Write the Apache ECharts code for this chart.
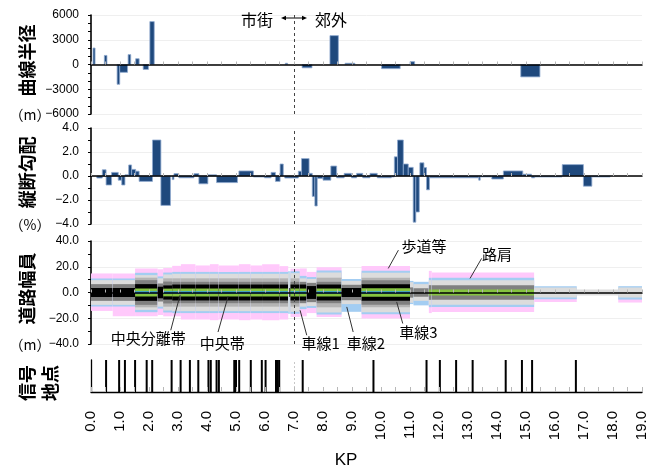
<!DOCTYPE html>
<html>
<head>
<meta charset="utf-8">
<script src="https://cdn.jsdelivr.net/npm/echarts@6/dist/echarts.min.js"></script>
<style>
html, body { margin: 0; padding: 0; background: #fff; }
#main { width: 662px; height: 465px; }
</style>
</head>
<body>
<div id="main"></div>
<script>
// ---- 曲線半径 (m): start KP, end KP, radius (sign = curve direction)
const curveStart  = [0.07, 0.46, 0.90, 0.99, 1.28, 1.54, 1.80, 2.03, 6.70, 7.28, 8.24, 8.76, 10.02, 11.00, 14.82];
const curveEnd    = [0.14, 0.55, 0.99, 1.26, 1.37, 1.66, 1.98, 2.18, 6.78, 7.62, 8.53, 9.10, 10.66, 11.16, 15.48];
const curveRadius = [2000, 1100, -2400, -950, 1200, 700, -600, 5200, 150, -400, 3500, 150, -500, 350, -1500];

// ---- 縦断勾配 (%): start KP, end KP, grade
const gradeStart = [0.20, 0.39, 0.52, 0.71, 0.94, 1.06, 1.17, 1.30, 1.40, 1.54, 1.66, 2.12, 2.41, 2.80, 2.86, 3.03, 3.55, 3.72, 4.03, 4.33,
  5.10, 5.60, 5.98, 6.21, 6.36, 6.52, 6.68, 7.15, 7.26, 7.52, 7.63, 7.72, 7.80, 8.00, 8.27, 8.47, 8.73, 8.98, 9.16, 9.37,
  9.62, 9.87, 10.36, 10.46, 10.57, 10.77, 10.94, 11.11, 11.20, 11.34, 11.48, 11.57, 11.67, 13.37, 13.42, 13.82, 14.22, 14.89, 15.19, 15.30,
  16.25, 16.98, 17.27];
const gradeEnd = [0.39, 0.52, 0.71, 0.94, 1.06, 1.17, 1.30, 1.40, 1.54, 1.66, 2.12, 2.41, 2.74, 2.86, 3.03, 3.55, 3.72, 4.03, 4.33, 5.05,
  5.60, 5.98, 6.21, 6.36, 6.52, 6.63, 7.15, 7.26, 7.52, 7.63, 7.72, 7.80, 8.00, 8.27, 8.47, 8.73, 8.98, 9.16, 9.37, 9.62,
  9.87, 10.36, 10.46, 10.57, 10.77, 10.94, 11.11, 11.20, 11.32, 11.48, 11.57, 11.67, 13.37, 13.42, 13.80, 14.22, 14.89, 15.19, 15.30, 16.24,
  16.98, 17.27, 17.90];
const gradeValue = [-0.17, 0.52, -0.75, 0.30, -0.35, -0.75, 0.10, 0.92, 0.55, 0.40, -0.45, 3.00, -2.45, -0.30, 0.20, -0.15, 0.20, -0.65, 0.10, -0.55,
  0.42, -0.05, -0.15, 0.30, -0.45, 1.00, -0.17, 0.40, 1.45, 0.22, -1.70, -2.50, -0.20, -0.35, 0.83, -0.15, 0.22, -0.15, 0.22, -0.15,
  0.22, -0.15, -0.05, 1.60, 3.00, 1.00, 0.72, -3.85, -3.00, 1.10, 0.70, -1.15, -0.15, -0.35, -0.03, -0.25, 0.42, 0.15, -0.15, -0.03,
  0.95, -0.85, -0.03];

// ---- 道路幅員 (m): sections and outer half-widths of each band
const roadStart = [0, 0.75, 1.52, 2.30, 2.49, 2.80, 3.10, 3.60, 4.10, 4.40, 5.10, 5.50, 5.90, 6.50, 6.80, 6.84, 6.88, 7.20, 7.44, 7.78,
  8.64, 9.33, 11.00, 11.12, 11.65, 11.75, 15.28, 16.75, 18.18];
const roadEnd = [0.75, 1.52, 2.30, 2.49, 2.80, 3.10, 3.60, 4.10, 4.40, 5.10, 5.50, 5.90, 6.50, 6.80, 6.84, 6.88, 7.20, 7.44, 7.78, 8.64,
  9.33, 11.00, 11.12, 11.65, 11.75, 15.28, 16.75, 18.18, 19.00];
const sidewalkTop    = [14.8, 14.8, 18.7, 18.0, 19.0, 20.7, 22.0, 21.0, 22.0, 21.0, 22.0, 21.0, 22.0, 20.5, 0, 0, 18.5, 18.7, 16.0, 19.7, 0, 20.5, 0, 0, 16.8, 15.5, 0, 0, 0];
const sidewalkBottom = [14.3, 18.4, 18.4, 17.5, 18.5, 18.5, 21.0, 21.0, 21.5, 21.0, 21.5, 21.0, 21.5, 21.0, 0, 0, 19.0, 18.5, 16.0, 19.0, 0, 20.2, 0, 0, 16.0, 15.1, 7.3, 0, 7.8];
const shoulderTop    = [10.9, 10.9, 15.3, 12.5, 15.5, 16.0, 16.0, 16.0, 16.0, 16.0, 16.0, 16.0, 16.0, 16.0, 16.5, 16.5, 16.5, 12.9, 12.0, 17.0, 10.5, 16.8, 9.0, 8.3, 11.4, 11.4, 4.9, 0, 4.9];
const shoulderBottom = [10.9, 10.9, 15.3, 12.5, 15.5, 16.0, 16.0, 16.0, 16.0, 16.0, 16.0, 16.0, 16.0, 16.0, 16.5, 16.5, 16.5, 12.9, 12.0, 17.0, 15.0, 16.8, 9.0, 10.0, 11.4, 11.2, 5.2, 0, 5.5];
const lane3Width  = [9.6, 9.6, 13.5, 11.0, 14.0, 14.5, 14.5, 14.5, 14.5, 14.5, 14.5, 14.5, 14.5, 14.5, 15.0, 15.0, 15.0, 11.0, 10.5, 15.5, 9.0, 15.3, 8.0, 6.5, 9.6, 9.6, 3.9, 2.3, 3.9];
const lane2Width  = [0, 0, 11.5, 0, 11.0, 11.0, 11.0, 11.0, 11.0, 11.0, 11.0, 11.0, 11.0, 11.0, 0, 0, 11.0, 0, 0, 11.5, 0, 11.5, 0, 0, 0, 0, 0, 0, 0];
const lane1Width  = [6.5, 6.5, 9.6, 7.0, 8.5, 8.3, 8.3, 8.3, 8.3, 8.3, 8.3, 8.3, 8.3, 8.3, 0, 0, 8.3, 8.3, 7.5, 8.3, 6.0, 9.5, 4.0, 3.3, 5.7, 5.7, 0, 0, 0];
const innerLaneWidth = [3.5, 3.5, 6.5, 4.5, 5.5, 6.2, 6.2, 6.2, 6.2, 6.2, 6.2, 6.2, 6.2, 6.2, 0, 3.5, 6.2, 6.2, 5.0, 6.2, 3.5, 6.5, 0, 0, 0, 0, 0, 0, 0];
const medianWidth = [0, 0, 3.1, 0, 3.0, 3.1, 3.1, 3.1, 3.1, 3.1, 3.1, 3.1, 3.1, 3.1, 0, 0, 3.1, 3.1, 0, 3.1, 0, 3.3, 0, 0, 2.3, 2.3, 0, 0, 0];
const separatorWidth = [0, 0, 1.0, 0, 1.0, 1.0, 1.0, 1.0, 1.0, 1.0, 1.0, 1.0, 1.0, 1.0, 0, 0, 1.0, 1.0, 0, 1.0, 0, 1.0, 0, 0, 0, 0, 0, 0, 0];

// ---- 信号地点 (KP)
const signalKP = [0.52, 0.97, 1.17, 1.52, 1.92, 2.11, 2.78, 3.09, 3.41, 3.70, 4.05, 4.13, 4.33, 4.41, 4.94, 5.00, 5.11, 5.51, 5.89, 6.02,
  6.38, 6.44, 6.49, 7.30, 9.74, 11.57, 12.03, 12.59, 13.16, 14.30, 14.86, 15.21, 16.72];

// ---- axes
const kpMin = 0, kpMax = 19, kpStep = 0.5;
const urbanBoundaryKP = 7.0;
const panelNames = ['曲線半径', '縦断勾配', '道路幅員'];
const panelUnits = ['（m）', '（%）', '（m）'];
const panelMin = [-6000, -4, -40];
const panelMax = [6000, 4, 40];
const panelStep = [3000, 2, 20];

// ---- annotation labels in the road-width panel: text, text centre, leader start, leader end
const noteText = ['中央分離帯', '中央帯', '車線1', '車線2', '車線3', '歩道等', '路肩'];
const notePos  = [[1.97, -35.2], [4.53, -39.6], [7.92, -39.6], [9.48, -39.4], [11.29, -30.7], [11.48, 35.5], [14.0, 29.8]];
const noteTail = [[2.75, -29.3], [4.38, -30.7], [7.44, -33.2], [9.04, -30.7], [10.75, -24.1], [10.60, 32.9], [13.47, 26.5]];
const noteTip  = [[3.07, -2.1], [4.73, -2.9], [7.21, -13.8], [8.82, -11.2], [10.54, -7.3], [10.25, 18.7], [13.07, 10.9]];

const NUM_FONT = '"Liberation Sans", Arial, sans-serif';
const JP_FONT = '"Noto Sans CJK JP", "Noto Sans", sans-serif';
const BAR_FILL = '#1F497D';
const BAR_EDGE = '#8fa9cf';

const grids = [
  { left: 91, top: 15, width: 551, height: 99 },
  { left: 91, top: 128, width: 551, height: 96 },
  { left: 91, top: 241, width: 551, height: 103 },
  { left: 91, top: 360, width: 551, height: 32 }
];

const minus = v => String(v).replace('-', '\u2212');

const xAxes = grids.map((g, i) => ({
  type: 'value', gridIndex: i, min: kpMin, max: kpMax, interval: kpStep, z: 5,
  axisLine: { show: true, onZero: i < 3, lineStyle: { color: '#000', width: i < 3 ? 1.6 : 1.3 } },
  axisTick: { show: true, inside: true, length: i < 3 ? 3 : 5, lineStyle: { color: '#b8b8b8', width: 1 } },
  splitLine: { show: false },
  axisLabel: i < 3 ? { show: false } : {
    show: true, rotate: 90, margin: 19, color: '#000', fontSize: 15, fontFamily: NUM_FONT,
    formatter: v => (Math.abs(v - Math.round(v)) < 1e-6 ? v.toFixed(1) : '')
  }
}));

const yAxes = grids.map((g, i) => {
  if (i === 3) {
    return {
      type: 'value', gridIndex: 3, min: 0, max: 1,
      axisLine: { show: true, lineStyle: { color: '#000', width: 1.3 } },
      axisTick: { show: false }, axisLabel: { show: false }, splitLine: { show: false }
    };
  }
  return {
    type: 'value', gridIndex: i, min: panelMin[i], max: panelMax[i], interval: panelStep[i],
    axisLine: { show: true, onZero: false, lineStyle: { color: '#000', width: 1.6 } },
    axisTick: { show: true, length: 3, lineStyle: { color: '#000' } },
    minorTick: { show: true, splitNumber: i === 0 ? 3 : 2, length: 3, lineStyle: { color: '#000' } },
    splitLine: { show: true, lineStyle: { color: '#efefef', width: 1 } },
    axisLabel: {
      margin: 12, color: '#000', fontSize: 12, fontFamily: NUM_FONT,
      formatter: v => minus(i === 0 ? v : v.toFixed(1))
    }
  };
});

function barItem(params, api) {
  const a = api.coord([api.value(0), api.value(2)]);
  const b = api.coord([api.value(1), 0]);
  const h = Math.max(Math.abs(b[1] - a[1]), 1);
  return {
    type: 'rect',
    shape: { x: Math.min(a[0], b[0]), y: api.value(2) >= 0 ? b[1] - h : b[1], width: Math.abs(b[0] - a[0]), height: h },
    style: { fill: BAR_FILL, stroke: BAR_EDGE, lineWidth: 0.8 }
  };
}

// band colours drawn from the outside in
const bandColors = ['#ffc9fb', '#a3cdf2', '#dcdcdc', '#b4b4b4', '#808080', '#000000', '#86c440', '#2f98e0'];

function roadItem(params, api) {
  const s = api.value(0), e = api.value(1);
  const kids = [];
  const band = (top, bottom, color) => {
    if (top <= 0 && bottom <= 0) return;
    const p = api.coord([s, top]);
    const q = api.coord([e, -bottom]);
    kids.push({ type: 'rect', shape: { x: p[0], y: p[1], width: q[0] - p[0], height: q[1] - p[1] }, style: { fill: color } });
  };
  band(api.value(2), api.value(3), bandColors[0]);
  band(api.value(4), api.value(5), bandColors[1]);
  for (let k = 6; k <= 11; k++) band(api.value(k), api.value(k), bandColors[k - 4]);
  return { type: 'group', children: kids };
}

function signalItem(params, api) {
  const a = api.coord([api.value(0), 0]);
  const b = api.coord([api.value(0), 1]);
  return { type: 'line', shape: { x1: a[0], y1: a[1], x2: b[0], y2: b[1] }, style: { stroke: '#000', lineWidth: 2 } };
}

const boundaryLine = (color, type) => ({
  silent: true, symbol: ['none', 'none'], label: { show: false },
  lineStyle: { color: color, type: type, width: 1 },
  data: [{ xAxis: urbanBoundaryKP }]
});

const option = {
  animation: false,
  backgroundColor: '#fff',
  grid: grids,
  xAxis: xAxes,
  yAxis: yAxes,
  series: [
    {
      type: 'custom', xAxisIndex: 0, yAxisIndex: 0, renderItem: barItem, clip: true,
      data: curveStart.map((s, i) => [s, curveEnd[i], curveRadius[i]]),
      markLine: boundaryLine('#444', [3, 3])
    },
    {
      type: 'custom', xAxisIndex: 1, yAxisIndex: 1, renderItem: barItem, clip: true,
      data: gradeStart.map((s, i) => [s, gradeEnd[i], gradeValue[i]]),
      markLine: boundaryLine('#444', [3, 3])
    },
    {
      type: 'custom', xAxisIndex: 2, yAxisIndex: 2, renderItem: roadItem, clip: true,
      data: roadStart.map((s, i) => [s, roadEnd[i], sidewalkTop[i], sidewalkBottom[i], shoulderTop[i], shoulderBottom[i],
        lane3Width[i], lane2Width[i], lane1Width[i], innerLaneWidth[i], medianWidth[i], separatorWidth[i]]),
      markLine: boundaryLine('#444', [3, 3])
    },
    {
      type: 'custom', xAxisIndex: 3, yAxisIndex: 3, renderItem: signalItem, clip: false,
      data: signalKP.map(k => [k]),
      markLine: boundaryLine('#c8c8c8', [2, 2])
    }
  ]
};

const chart = echarts.init(document.getElementById('main'));
chart.setOption(option);

// ---- titles, units and annotations
const graphics = [];
const vText = (txt, x, y, size) => graphics.push({
  type: 'text', x: x, y: y, rotation: Math.PI / 2,
  style: { text: txt, fill: '#000', font: 'bold ' + size + 'px ' + JP_FONT, textAlign: 'center', textVerticalAlign: 'middle' }
});
const hText = (txt, x, y, size, align, font) => graphics.push({
  type: 'text', x: x, y: y,
  style: { text: txt, fill: '#000', font: size + 'px ' + (font || JP_FONT), textAlign: align || 'center', textVerticalAlign: 'middle' }
});

grids.slice(0, 3).forEach((g, i) => {
  vText(panelNames[i], 27, g.top + g.height * 0.46, 18);
  hText(panelUnits[i], 30, g.top + g.height + 1, 14);
});
vText('信号', 27, 383, 18);
vText('地点', 50, 383, 18);
hText('KP', 346, 460, 17, 'center', NUM_FONT);

// 市街 / 郊外 boundary marker
const bx = chart.convertToPixel({ xAxisIndex: 0 }, urbanBoundaryKP);
hText('市街', bx - 21, 20, 16, 'right');
hText('郊外', bx + 21, 20, 16, 'left');
graphics.push({ type: 'line', shape: { x1: bx - 11, y1: 18, x2: bx + 11, y2: 18 }, style: { stroke: '#000', lineWidth: 1 } });
graphics.push({ type: 'polygon', shape: { points: [[bx - 13, 18], [bx - 8, 15.8], [bx - 8, 20.2]] }, style: { fill: '#000' } });
graphics.push({ type: 'polygon', shape: { points: [[bx + 13, 18], [bx + 8, 15.8], [bx + 8, 20.2]] }, style: { fill: '#000' } });

noteText.forEach((t, i) => {
  const p = chart.convertToPixel({ gridIndex: 2 }, notePos[i]);
  const a = chart.convertToPixel({ gridIndex: 2 }, noteTail[i]);
  const b = chart.convertToPixel({ gridIndex: 2 }, noteTip[i]);
  graphics.push({ type: 'line', shape: { x1: a[0], y1: a[1], x2: b[0], y2: b[1] }, style: { stroke: '#333', lineWidth: 1 }, z: 20 });
  graphics.push({
    type: 'text', x: p[0], y: p[1], z: 20,
    style: { text: t, fill: '#000', font: '15px ' + JP_FONT, textAlign: 'center', textVerticalAlign: 'middle' }
  });
});

chart.setOption({ graphic: graphics });
</script>
</body>
</html>
